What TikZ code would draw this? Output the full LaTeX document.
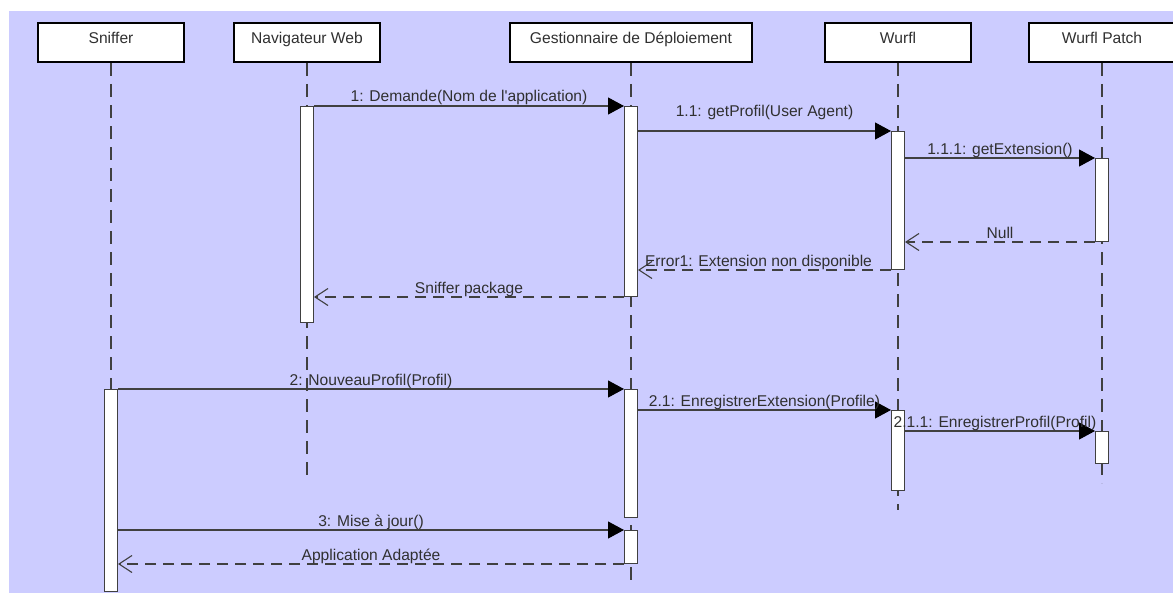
\documentclass[tikz,border=0pt]{standalone}
\usepackage{fontspec}
\newfontfamily\umlfont{Liberation Sans}
\usetikzlibrary{arrows.meta}
\definecolor{lavbg}{RGB}{204,204,255}
\definecolor{lnk}{RGB}{64,64,64}
\definecolor{txt}{RGB}{48,48,48}

\begin{document}
\begin{tikzpicture}[x=1pt,y=-1pt,font=\umlfont\fontsize{15.6}{18}\selectfont,
    actor/.style={draw=black,line width=2pt,fill=white,minimum width=146pt,minimum height=39pt,
                  inner sep=0pt,text height=11pt,text depth=8pt,text=txt},
    life/.style={draw=lnk,line width=1.7pt,dash pattern=on 13pt off 8pt},
    actbar/.style={draw=lnk,line width=1pt,fill=white,minimum width=13pt,inner sep=0pt,anchor=north},
    msg/.style={draw=lnk,line width=1.1pt,-{Triangle[length=16pt,width=17pt,black]}},
    ret/.style={draw=lnk,line width=1.1pt,dash pattern=on 11pt off 7pt,
                -{Straight Barb[length=13pt,width=17pt,line width=1.1pt]}},
    lbl/.style={anchor=base,yshift=4pt,inner sep=0pt,text=txt}]
  \useasboundingbox (0,0) rectangle (1173,594);
  \fill[lavbg] (9,11) rectangle (1173,593);

  \node[actor] (snf) at (111,42.5) {Sniffer};
  \node[actor] (nav) at (307,42.5) {Navigateur Web};
  \node[actor,minimum width=242pt] (ges) at (631,42.5) {Gestionnaire de Déploiement};
  \node[actor] (wur) at (898,42.5) {Wurfl};
  \node[actor] (pat) at (1102,42.5) {Wurfl Patch};

  \coordinate (snfend) at (111,591);
  \coordinate (navend) at (307,480);
  \coordinate (gesend) at (631,582);
  \coordinate (wurend) at (898,510);
  \coordinate (patend) at (1102,483);
  \draw[life] (snf) -- (snfend);
  \draw[life] (nav) -- (navend);
  \draw[life] (ges) -- (gesend);
  \draw[life] (wur) -- (wurend);
  \draw[life] (pat) -- (patend);

  \node[actbar,minimum height=216pt] (nav1) at (307,106) {};
  \node[actbar,minimum height=190pt] (ges1) at (631,106) {};
  \node[actbar,minimum height=138pt] (wur1) at (898,131) {};
  \node[actbar,minimum height=83pt]  (pat1) at (1102,158) {};
  \node[actbar,minimum height=202pt] (snf1) at (111,389) {};
  \node[actbar,minimum height=128pt] (ges2) at (631,389) {};
  \node[actbar,minimum height=80pt]  (wur2) at (898,410) {};
  \node[actbar,minimum height=32pt]  (pat2) at (1102,431) {};
  \node[actbar,minimum height=33pt]  (ges3) at (631,530) {};

  \draw[msg] (nav1.north east) -- node[lbl]{1: Demande(Nom de l'application)} (ges1.north west);
  \draw[msg] (ges1.east |- wur1.north) -- node[lbl,yshift=10pt]{1.1: getProfil(User Agent)} (wur1.north west);
  \draw[msg] (wur1.east |- pat1.north) -- node[lbl]{1.1.1: getExtension()} (pat1.north west);
  \draw[ret] (pat1.south west) -- node[lbl]{Null} (wur1.east |- pat1.south);
  \draw[ret] (wur1.south west) -- node[lbl,xshift=-6pt]{Error1: Extension non disponible} (ges1.east |- wur1.south);
  \draw[ret] (ges1.south west) -- node[lbl]{Sniffer package} (nav1.east |- ges1.south);
  \draw[msg] (snf1.north east) -- node[lbl]{2: NouveauProfil(Profil)} (ges2.north west);
  \draw[msg] (ges2.east |- wur2.north) -- node[lbl]{2.1: EnregistrerExtension(Profile)} (wur2.north west);
  \draw[msg] (wur2.east |- pat2.north) -- node[lbl,xshift=-5pt]{2.1.1: EnregistrerProfil(Profil)} (pat2.north west);
  \draw[msg] (snf1.east |- ges3.north) -- node[lbl]{3: Mise à jour()} (ges3.north west);
  \draw[ret] (ges3.south west) -- node[lbl]{Application Adaptée} (snf1.east |- ges3.south);
\end{tikzpicture}
\end{document}
